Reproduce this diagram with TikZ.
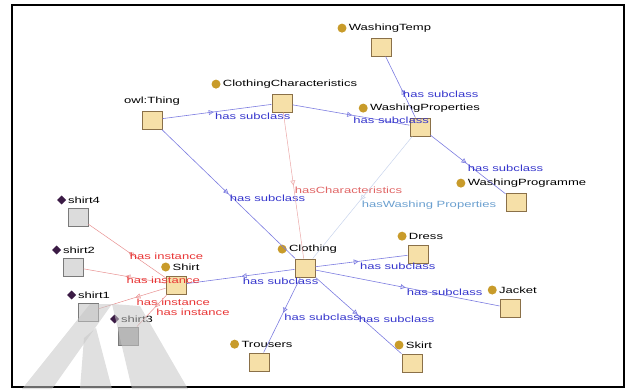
\documentclass[tikz,border=0pt]{standalone}
\usepackage{fontspec}
\setmainfont{Liberation Sans}[FakeStretch=1.45]
\usetikzlibrary{positioning,shapes.geometric,arrows.meta,decorations.markings}
\definecolor{clsfill}{HTML}{F6E0A8}
\definecolor{clsdraw}{HTML}{8A7048}
\definecolor{dotc}{HTML}{C89B2A}
\definecolor{instfill}{HTML}{DCDCDC}
\definecolor{instdraw}{HTML}{7A7A7A}
\definecolor{gemc}{HTML}{3B1B45}
\definecolor{subline}{HTML}{7C7CE0}
\definecolor{sublbl}{HTML}{3535CC}
\definecolor{instline}{HTML}{E89090}
\definecolor{instlbl}{HTML}{E83535}
\definecolor{charline}{HTML}{EBA8A8}
\definecolor{charlbl}{HTML}{E06565}
\definecolor{wline}{HTML}{C8D4EC}
\definecolor{wlbl}{HTML}{6A9FCF}
\begin{document}
\begin{tikzpicture}[x=1pt,y=1pt,
  cls/.style={draw=clsdraw, fill=clsfill, line width=1pt, minimum width=20pt, minimum height=18pt, inner sep=0pt},
  inst/.style={cls, draw=instdraw, fill=instfill},
  lbl/.style={font=\fontsize{9}{10}\selectfont, inner sep=1pt},
  dot/.style={circle, fill=dotc, inner sep=0pt, minimum size=9pt},
  gem/.style={diamond, fill=gemc, inner sep=0pt, minimum size=9pt},
  rel/.style={postaction={decorate, decoration={markings,
      mark=at position #1 with {\arrow{Triangle[open, length=5pt, width=5pt]}}}}},
  sub/.style={rel=#1, draw=subline, line width=0.6pt},
  has/.style={rel=#1, draw=instline, line width=0.5pt},
  wmark/.style={fill=gray!45, opacity=0.55}]
\useasboundingbox (0,0) rectangle (631,-389);
% frame
\draw[line width=1.5pt] (12,-5) rectangle (624,-387);

% Class boxes
\node[cls] (thing) at (152,-120) {};
\node[cls] (charac) at (282,-103) {};
\node[cls] (wtemp) at (381,-47) {};
\node[cls] (wprop) at (420,-127) {};
\node[cls] (wprog) at (516,-202) {};
\node[cls] (clothing) at (305,-268) {};
\node[cls] (shirt) at (176,-285) {};
\node[cls] (dress) at (418,-254) {};
\node[cls] (jacket) at (510,-308) {};
\node[cls] (trousers) at (259,-362) {};
\node[cls] (skirt) at (412,-363) {};

% Instance boxes
\node[inst] (s4) at (78,-217) {};
\node[inst] (s2) at (73,-267) {};
\node[inst] (s1) at (88,-312) {};
\node[inst, fill=gray!70] (s3) at (128,-336) {};

% Names above the boxes
\node[lbl, above=4pt of thing] (thingL) {owl:Thing};
\foreach \n/\t/\dx in {charac/ClothingCharacteristics/8, wtemp/WashingTemp/9,
    wprop/WashingProperties/5, wprog/WashingProgramme/11, clothing/Clothing/8,
    shirt/Shirt/10, dress/Dress/8, jacket/Jacket/8, trousers/Trousers/8, skirt/Skirt/7} {
  \node[lbl, above=4pt of \n, xshift=\dx pt] (\n L) {\t};
  \node[dot, left=1pt of \n L] (\n D) {};
}
\foreach \n/\t/\dx in {s4/shirt4/6, s2/shirt2/6, s1/shirt1/6, s3/shirt3/9} {
  \node[lbl, above=3pt of \n, xshift=\dx pt] (\n L) {\t};
  \node[gem, left=0.5pt of \n L] (\n D) {};
}

% has subclass
\foreach \a/\b/\p in {thing/charac/0.47, charac/wprop/0.51, wprop/wtemp/0.46,
    wprop/wprog/0.48, thing/clothing/0.5, clothing/shirt/0.49, clothing/dress/0.47,
    clothing/jacket/0.49, clothing/trousers/0.47, clothing/skirt/0.49} {
  \draw[sub=\p] (\a) -- node[lbl, pos=\p, anchor=north west, text=sublbl] {has subclass} (\b);
}

% has instance
\foreach \b/\p in {s4/0.48, s2/0.49, s1/0.45, s3/0.4} {
  \draw[has=\p] (shirt) -- node[lbl, pos=\p, anchor=north west, text=instlbl] {has instance} (\b);
}

% object properties
\draw[rel=0.5, draw=charline, line width=0.5pt] (charac) --
  node[lbl, pos=0.5, anchor=north west, text=charlbl] {hasCharacteristics} (clothing);
\draw[rel=0.52, draw=wline, line width=0.5pt] (wprop) --
  node[lbl, pos=0.52, anchor=north west, text=wlbl] {hasWashing Properties} (clothing);

% watermark
\fill[wmark] (22,-389) -- (90,-304) -- (112,-304) -- (52,-389) -- cycle;
\fill[wmark] (112,-304) -- (140,-306) -- (188,-389) -- (132,-389) -- cycle;
\fill[wmark] (84,-338) -- (96,-328) -- (112,-389) -- (80,-389) -- cycle;
\end{tikzpicture}
\end{document}
